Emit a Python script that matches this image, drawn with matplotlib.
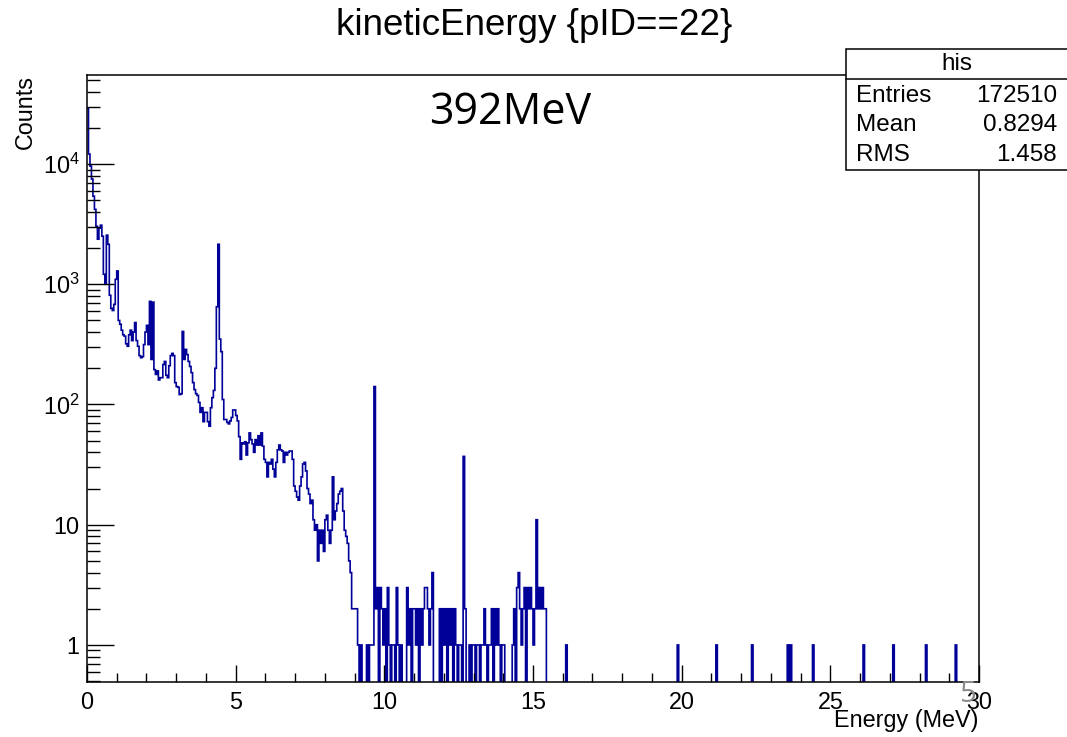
import numpy as np
import matplotlib
matplotlib.use("Agg")
import matplotlib.pyplot as plt
from matplotlib.patches import Rectangle
from matplotlib.lines import Line2D
from matplotlib.ticker import FixedLocator, FixedFormatter, MultipleLocator, NullFormatter

plt.rcParams['font.family'] = ['Liberation Sans', 'DejaVu Sans']
plt.rcParams['mathtext.fontset'] = 'custom'
plt.rcParams['mathtext.rm'] = 'Liberation Sans'

# ---------------- data ----------------
bin_width = 0.05
x_range = (0, 30)
# counts per 0.05 MeV bin, 0-3 MeV
counts_0_3 = [29000, 12100, 9600, 7500, 5400, 4200, 3040, 2370, 2930, 3100,
              2510, 1210, 1000, 2560, 2150, 810, 630, 605, 680, 1100,
              1290, 500, 465, 415, 380, 370, 320, 305, 380, 415,
              340, 400, 480, 340, 305, 255, 245, 250, 315, 400,
              455, 315, 720, 237, 710, 195, 178, 190, 160, 167,
              167, 215, 228, 175, 167, 210, 255, 266, 255, 152]
# 3-6 MeV
counts_3_6 = [141, 139, 121, 123, 405, 237, 287, 260, 228, 207,
              184, 152, 133, 123, 119, 104, 86, 94, 72, 86,
              86, 72, 66, 94, 114, 131, 200, 650, 2150, 350,
              275, 110, 75, 75, 71, 69, 73, 78, 90, 90,
              81, 73, 54, 35, 48, 47, 49, 38, 48, 58,
              51, 47, 40, 51, 46, 55, 46, 58, 45, 35]
# 6-9 MeV
counts_6_9 = [33, 25, 33, 32, 35, 29, 25, 33, 42, 46,
              42, 41, 33, 40, 38, 40, 41, 41, 35, 21,
              19, 17, 16, 21, 25, 32, 33, 28, 20, 18,
              15, 16, 11, 9, 10, 5, 9, 7, 9, 6,
              11, 12, 9, 7, 9, 25, 11, 13, 15, 18,
              19, 20, 13, 9, 8, 7, 5, 4, 2, 2]
# 9-16 MeV
counts_9_16 = [2, 2, 1, 0, 1, 0, 0, 0, 1, 0,
               1, 1, 1, 141, 2, 3, 0, 3, 2, 1,
               2, 0, 3, 1, 0, 1, 1, 0, 3, 1,
               0, 1, 0, 0, 0, 3, 1, 2, 0, 2,
               2, 1, 2, 0, 2, 1, 2, 3, 3, 2,
               1, 2, 4, 0, 0, 0, 0, 2, 0, 2,
               1, 2, 0, 2, 1, 2, 0, 2, 1, 0,
               1, 1, 0, 37, 2, 0, 0, 1, 0, 1,
               1, 0, 1, 1, 0, 1, 1, 2, 1, 0,
               1, 1, 2, 0, 2, 1, 2, 1, 0, 1,
               1, 0, 0, 0, 0, 0, 1, 2, 0, 3,
               4, 2, 1, 2, 3, 0, 3, 2, 3, 2,
               1, 2, 11, 2, 3, 2, 3, 2, 2, 0,
               0, 0, 0, 0, 0, 0, 0, 0, 0, 0]
# isolated single counts above 16 MeV (energies, MeV)
single_events = [16.1, 19.9, 21.18, 22.35, 23.59, 23.67, 24.43, 26.11, 27.12, 28.22, 29.2]

title = "kineticEnergy {pID==22}"
stats_name = "his"
stats_rows = [("Entries", "172510"), ("Mean", "0.8294"), ("RMS", "1.458")]
y_ticks = [1, 10, 100, 1000, 10000]
y_tick_labels = ["1", "10", r"$\mathregular{10^{2}}$", r"$\mathregular{10^{3}}$", r"$\mathregular{10^{4}}$"]
x_ticks = [0, 5, 10, 15, 20, 25, 30]

# ---------------- figure ----------------
W, H = 1067, 737
fig = plt.figure(figsize=(W / 100, H / 100), dpi=100)

def fx(x):
    return x / W

def fy(y):
    return 1 - y / H

ax_l, ax_r, ax_t, ax_b = 87, 979, 75, 682
ax = fig.add_axes([fx(ax_l), fy(ax_b), fx(ax_r - ax_l), (ax_b - ax_t) / H])

nbins = int(round((x_range[1] - x_range[0]) / bin_width))
edges = np.linspace(x_range[0], x_range[1], nbins + 1)
counts = np.zeros(nbins)
dense = counts_0_3 + counts_3_6 + counts_6_9 + counts_9_16
counts[:len(dense)] = dense
for e in single_events:
    counts[int(e / bin_width)] += 1
plot_counts = np.where(counts > 0, counts, 1e-3)

ax.stairs(plot_counts, edges, baseline=None, color='#000099', lw=1.2)

ax.set_yscale('log')
ax.set_xlim(*x_range)
ax.set_ylim(0.492, 55000)

ax.xaxis.set_major_locator(FixedLocator(x_ticks))
ax.xaxis.set_minor_locator(MultipleLocator(1))
ax.yaxis.set_major_locator(FixedLocator(y_ticks))
ax.yaxis.set_major_formatter(FixedFormatter(y_tick_labels))
minor_y = [m * 10 ** d for d in range(-1, 5) for m in range(2, 10)]
ax.yaxis.set_minor_locator(FixedLocator(minor_y))
ax.yaxis.set_minor_formatter(NullFormatter())

ax.tick_params(axis='both', which='both', direction='in', top=False, right=False,
               width=1.0, labelsize=16.8, color='black')
ax.tick_params(axis='y', which='major', length=19.4, pad=5.5)
ax.tick_params(axis='y', which='minor', length=9.6)
ax.tick_params(axis='x', which='major', length=12, pad=6.5)
ax.tick_params(axis='x', which='minor', length=6.3)
for sp in ax.spines.values():
    sp.set_linewidth(1.1)

# titles
fig.text(fx(534), fy(35), title, ha='center', va='baseline', fontsize=26.5)
fig.text(fx(25), fy(75), "Counts", ha='center', va='top', rotation=90, fontsize=16.8)
fig.text(fx(979), fy(727), "Energy (MeV)", ha='right', va='baseline', fontsize=16.8)

# overlay text
fig.text(fx(510), fy(113), "392MeV", ha='center', va='center', fontsize=31,
         family=['Open Sans', 'DejaVu Sans'])
fig.text(fx(967), fy(694), "5", ha='center', va='center', fontsize=21,
         family=['Open Sans', 'DejaVu Sans'], color='#8a8a8a', zorder=20)

# stats box
bx_l, bx_t, bx_b, bx_sep = 846, 49, 170, 79
fig.add_artist(Rectangle((fx(bx_l), fy(bx_b)), fx(W + 10 - bx_l), (bx_b - bx_t) / H,
                         transform=fig.transFigure, facecolor='white', edgecolor='black',
                         lw=1.1, zorder=10, clip_on=False))
fig.add_artist(Line2D([fx(bx_l), fx(W + 10)], [fy(bx_sep), fy(bx_sep)],
                      transform=fig.transFigure, color='black', lw=1.1, zorder=11))
fig.text(fx(957), fy(64), stats_name, ha='center', va='center', fontsize=17.5, zorder=12)
row_y = [96, 125, 155]
for (lab, val), yy in zip(stats_rows, row_y):
    fig.text(fx(856), fy(yy), lab, ha='left', va='center', fontsize=17.5, zorder=12)
    fig.text(fx(1057), fy(yy), val, ha='right', va='center', fontsize=17.5, zorder=12)

fig.savefig("out.png", dpi=100)
